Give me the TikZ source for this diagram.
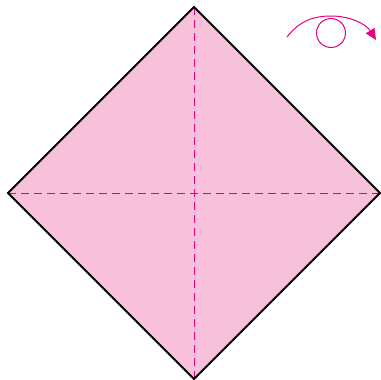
\documentclass[tikz,border=0pt]{standalone}
\usetikzlibrary{arrows.meta}
\definecolor{paperpink}{RGB}{247,193,219}
\definecolor{foldmagenta}{RGB}{230,0,126}

\begin{document}
\begin{tikzpicture}[x=1pt, y=-1pt]
  \useasboundingbox (0,0) rectangle (381,380);
  \coordinate (top) at (194,7);
  \coordinate (left) at (8,193);
  \coordinate (right) at (380,193);
  \coordinate (bottom) at (194,379);
  % square sheet turned on its corner
  \fill[paperpink] (top) -- (right) -- (bottom) -- (left) -- cycle;
  \draw[foldmagenta, line width=1pt, dash pattern=on 8pt off 5pt] (top) -- (bottom);
  \draw[foldmagenta, line width=1pt, dash pattern=on 8pt off 5pt] (left) -- (right);
  \draw[line width=2pt, line join=miter] (top) -- (right) -- (bottom) -- (left) -- cycle;
  % turn over symbol
  \draw[foldmagenta, line width=1pt] (331,33) circle (14.5);
  \draw[foldmagenta, line width=1pt, -{Triangle[length=11pt, width=10pt]}]
    (287,37) .. controls (300,20) and (315,16) .. (331,16)
    .. controls (350,16) and (366,24) .. (376,40);
\end{tikzpicture}
\end{document}
